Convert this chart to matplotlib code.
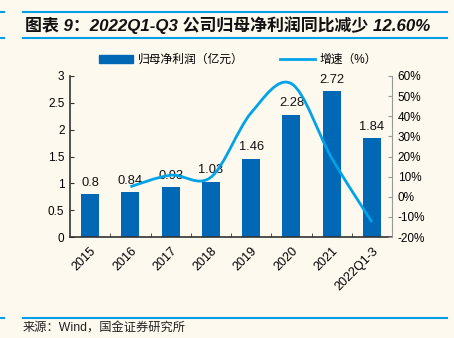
import numpy as np
import matplotlib
matplotlib.use('Agg')
import matplotlib.pyplot as plt
from matplotlib.path import Path
from matplotlib.patches import PathPatch
from matplotlib.lines import Line2D
from matplotlib.patches import Patch

plt.rcParams['font.family'] = ['Liberation Sans', 'Noto Sans CJK SC', 'DejaVu Sans']

years = ['2015', '2016', '2017', '2018', '2019', '2020', '2021', '2022Q1-3']
profit = [0.8, 0.84, 0.93, 1.03, 1.46, 2.28, 2.72, 1.84]
growth_x = [1, 2, 3, 4, 5, 6, 7]
growth = [5.0, 10.7, 9.7, 41.7, 56.2, 19.3, -12.6]

bg = '#fdf9ef'
bar_c = '#0068b5'
line_c = '#00a2e8'
rule_c = '#00a0e9'

fig = plt.figure(figsize=(4.54, 3.38), dpi=100, facecolor=bg)
ax = fig.add_axes([70 / 454, 1 - 237 / 338, 322 / 454, 161 / 338])
ax.set_facecolor(bg)

x = np.arange(len(years))
ax.bar(x, profit, width=0.45, color=bar_c, zorder=2)
for xi, v in zip(x, profit):
    ax.text(xi, v + 0.1, f'{v:g}', ha='center', va='bottom', fontsize=9.3, color='#111111')

ax.set_xlim(-0.5, len(years) - 0.5)
ax.set_ylim(0, 3)
ax.set_yticks(np.arange(0, 3.01, 0.5))
ax.set_yticklabels(['0', '0.5', '1', '1.5', '2', '2.5', '3'])
ax.set_xticks(x)
ax.set_xticklabels(years, rotation=45, ha='right', rotation_mode='anchor')
ax.set_xticks(np.arange(0.5, len(years) - 0.5), minor=True)
ax.tick_params(axis='x', which='major', length=0, pad=6, labelsize=9)
ax.tick_params(axis='x', which='minor', direction='in', length=3, color='#333333')
ax.tick_params(axis='y', direction='in', length=3, labelsize=8.5, pad=4, color='#333333')
ax.spines['top'].set_visible(False)
ax.spines['right'].set_visible(False)
for s in ['left', 'bottom']:
    ax.spines[s].set_color('#333333')
    ax.spines[s].set_linewidth(1.2)

ax2 = ax.twinx()
ax2.set_ylim(-20, 60)
ax2.set_yticks(np.arange(-20, 61, 10))
ax2.set_yticklabels([f'{t}%' for t in range(-20, 61, 10)])
ax2.tick_params(axis='y', direction='in', length=3, labelsize=8.5, pad=4, color='#999999')
for s in ['top', 'left', 'bottom']:
    ax2.spines[s].set_visible(False)
ax2.spines['right'].set_color('#999999')

# smoothed line (bezier through the data points)
px = np.array(growth_x, dtype=float)
py = np.array(growth, dtype=float)
verts = [(px[0], py[0])]
codes = [Path.MOVETO]
n = len(px)
for i in range(n - 1):
    p0 = np.array([px[max(i - 1, 0)], py[max(i - 1, 0)]])
    p1 = np.array([px[i], py[i]])
    p2 = np.array([px[i + 1], py[i + 1]])
    p3 = np.array([px[min(i + 2, n - 1)], py[min(i + 2, n - 1)]])
    c1 = p1 + (p2 - p0) / 6
    c2 = p2 - (p3 - p1) / 6
    verts += [tuple(c1), tuple(c2), tuple(p2)]
    codes += [Path.CURVE4] * 3
ax2.add_patch(PathPatch(Path(verts, codes), fill=False, edgecolor=line_c, lw=2, zorder=3))

handles = [Patch(color=bar_c), Line2D([], [], color=line_c, lw=2)]
fig.legend(handles, ['归母净利润（亿元）', '增速（%）'], loc='center',
           bbox_to_anchor=(238 / 454, 1 - 60 / 338), ncol=2, frameon=False,
           fontsize=8.5, handlelength=2.9, handleheight=0.6, handletextpad=0.4,
           columnspacing=3.1)

# title block
for yy in [12, 38, 318]:
    fig.add_artist(Line2D([23 / 454, 447 / 454], [1 - yy / 338] * 2, color=rule_c, lw=1.5))
    fig.add_artist(Line2D([0, 4 / 454], [1 - yy / 338] * 2, color=rule_c, lw=1.5))
fig.text(25 / 454, 1 - 25 / 338, '图表 9：2022Q1-Q3 公司归母净利润同比减少 12.60%',
         fontsize=12.2, fontweight='bold', style='italic', va='center', ha='left', color='#111111')
fig.text(23 / 454, 1 - 329 / 338, '来源：Wind，国金证券研究所', fontsize=8.8,
         va='center', ha='left', color='#222222')

fig.savefig('out.png', dpi=100, facecolor=bg)
